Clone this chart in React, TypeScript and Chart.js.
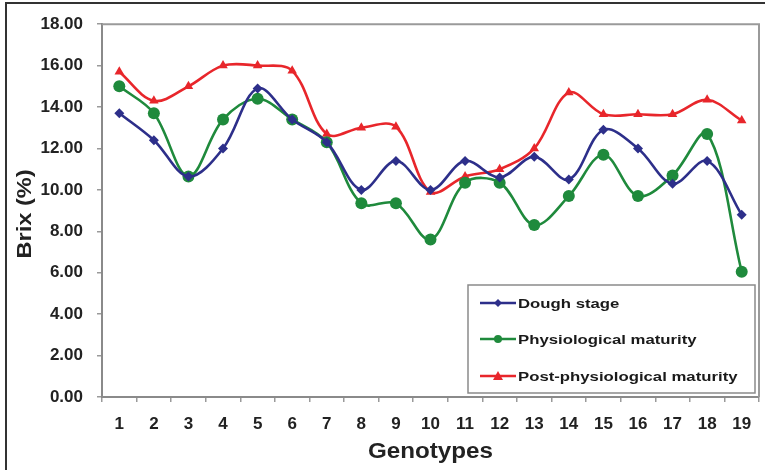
import React, { useEffect, useRef } from "react";
import { Chart, registerables } from "chart.js";

Chart.register(...registerables);

const genotypes = ["1","2","3","4","5","6","7","8","9","10","11","12","13","14","15","16","17","18","19"];
const doughStage = [13.7, 12.4, 10.65, 12.0, 14.9, 13.4, 12.3, 10.0, 11.4, 10.0, 11.4, 10.6, 11.6, 10.5, 12.9, 12.0, 10.3, 11.4, 8.8];
const physiologicalMaturity = [15.0, 13.7, 10.65, 13.4, 14.4, 13.4, 12.3, 9.35, 9.35, 7.6, 10.35, 10.35, 8.3, 9.7, 11.7, 9.7, 10.7, 12.7, 6.05];
const postPhysiologicalMaturity = [15.7, 14.3, 15.0, 16.0, 16.0, 15.75, 12.7, 13.0, 13.05, 9.9, 10.65, 11.0, 12.0, 14.7, 13.65, 13.65, 13.65, 14.35, 13.35];
const yTicks = { min: 0, max: 18, step: 2 };

const BLUE = "#2d2f8a";
const GREEN = "#1f8a3c";
const RED = "#e8262b";
const FONT = "'Liberation Sans', Arial, sans-serif";

const decorPlugin = {
  id: "decor",
  beforeDraw(chart: any) {
    const ctx = chart.ctx;
    ctx.save();
    ctx.fillStyle = "#ffffff";
    ctx.fillRect(0, 0, chart.width, chart.height);
    ctx.strokeStyle = "#333333";
    ctx.lineWidth = 2;
    ctx.beginPath();
    ctx.moveTo(6, chart.height);
    ctx.lineTo(6, 3);
    ctx.lineTo(chart.width, 3);
    ctx.stroke();
    ctx.restore();
  },
  afterDatasetsDraw(chart: any) {
    const ctx = chart.ctx;
    const a = chart.chartArea;
    ctx.save();
    ctx.strokeStyle = "#9a9a9a";
    ctx.lineWidth = 2;
    ctx.beginPath();
    ctx.moveTo(a.left, a.top);
    ctx.lineTo(a.right, a.top);
    ctx.lineTo(a.right, a.bottom);
    ctx.stroke();

    // axis titles
    ctx.fillStyle = "#222222";
    ctx.textAlign = "center";
    ctx.textBaseline = "middle";
    ctx.save();
    ctx.translate((a.left + a.right) / 2, 452);
    ctx.scale(1.1, 1);
    ctx.font = `bold 22px ${FONT}`;
    ctx.fillText("Genotypes", 0, 0);
    ctx.restore();
    ctx.save();
    ctx.translate(25, 214);
    ctx.rotate(-Math.PI / 2);
    ctx.scale(1.18, 1);
    ctx.font = `bold 20px ${FONT}`;
    ctx.fillText("Brix (%)", 0, 0);
    ctx.restore();

    // legend box
    const lx = 468, ly = 285, lw = 287, lh = 108;
    ctx.fillStyle = "#ffffff";
    ctx.fillRect(lx, ly, lw, lh);
    ctx.strokeStyle = "#8a8a8a";
    ctx.lineWidth = 1.5;
    ctx.strokeRect(lx, ly, lw, lh);
    const rows = [303, 339, 376];
    chart.data.datasets.forEach((ds: any, i: number) => {
      const y = rows[i];
      ctx.strokeStyle = ds.borderColor;
      ctx.lineWidth = 2.5;
      ctx.beginPath();
      ctx.moveTo(480, y);
      ctx.lineTo(516, y);
      ctx.stroke();
      ctx.fillStyle = ds.backgroundColor;
      const cx = 498;
      ctx.beginPath();
      if (ds.pointStyle === "rectRot") {
        const r = 4;
        ctx.moveTo(cx, y - r); ctx.lineTo(cx + r, y); ctx.lineTo(cx, y + r); ctx.lineTo(cx - r, y); ctx.closePath();
      } else if (ds.pointStyle === "circle") {
        ctx.arc(cx, y, 4, 0, Math.PI * 2);
      } else {
        const r = 5;
        ctx.moveTo(cx, y - r); ctx.lineTo(cx + r, y + r * 0.8); ctx.lineTo(cx - r, y + r * 0.8); ctx.closePath();
      }
      ctx.fill();
      ctx.save();
      ctx.translate(518, y + 1);
      ctx.scale(1.24, 1);
      ctx.fillStyle = "#1a1a1a";
      ctx.font = `bold 13.5px ${FONT}`;
      ctx.textAlign = "left";
      ctx.textBaseline = "middle";
      ctx.fillText(ds.label, 0, 0);
      ctx.restore();
    });
    ctx.restore();
  },
};

export default function App() {
  const ref = useRef<HTMLCanvasElement | null>(null);
  useEffect(() => {
    if (!ref.current) return;
    const mk = (label: string, data: number[], color: string, style: string, r: number) => ({
      label,
      data,
      borderColor: color,
      backgroundColor: color,
      pointStyle: style,
      pointRadius: r,
      pointHoverRadius: r,
      pointBorderWidth: 0,
      borderWidth: 2.6,
      tension: 0.35,
      fill: false,
    });
    const chart = new Chart(ref.current, {
      type: "line",
      data: {
        labels: genotypes,
        datasets: [
          mk("Dough stage", doughStage, BLUE, "rectRot", 5),
          mk("Physiological maturity", physiologicalMaturity, GREEN, "circle", 6),
          mk("Post-physiological maturity", postPhysiologicalMaturity, RED, "triangle", 5.5),
        ],
      },
      options: {
        animation: false,
        responsive: false,
        devicePixelRatio: 1,
        layout: { padding: { left: 0, top: 19, right: 5, bottom: 0 } },
        plugins: { legend: { display: false }, tooltip: { enabled: false } },
        scales: {
          x: {
            type: "category",
            offset: true,
            grid: { display: true, drawOnChartArea: false, drawTicks: true, tickLength: 5, color: "#9a9a9a", lineWidth: 1.5, offset: true },
            border: { display: true, color: "#8a8a8a", width: 2 },
            ticks: { color: "#222222", font: { family: FONT, size: 17, weight: "bold" }, padding: 12, maxRotation: 0, autoSkip: false },
            afterFit: (s: any) => { s.height = 73; },
          },
          y: {
            min: yTicks.min,
            max: yTicks.max,
            grid: { display: true, drawOnChartArea: false, drawTicks: true, tickLength: 5, color: "#9a9a9a", lineWidth: 1.5 },
            border: { display: true, color: "#8a8a8a", width: 2 },
            ticks: {
              stepSize: yTicks.step,
              color: "#222222",
              font: { family: FONT, size: 17, weight: "bold" },
              padding: 14,
              callback: (v: any) => Number(v).toFixed(2),
            },
            afterFit: (s: any) => { s.width = 102; },
          },
        },
      },
      plugins: [decorPlugin],
    } as any);
    return () => chart.destroy();
  }, []);
  return (
    <div style={{ position: "fixed", left: 0, top: 0, width: 765, height: 470, background: "#fff" }}>
      <canvas ref={ref} width={765} height={470} style={{ width: 765, height: 470 }} />
    </div>
  );
}
